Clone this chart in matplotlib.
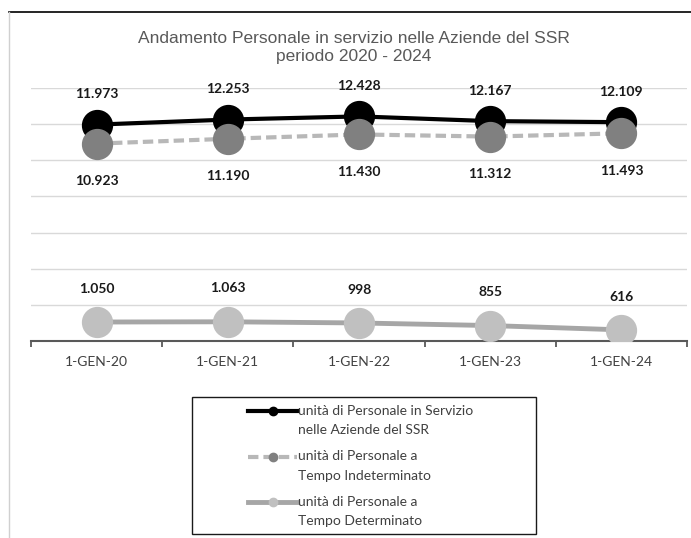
import matplotlib
matplotlib.use("Agg")
import matplotlib.pyplot as plt
from matplotlib.lines import Line2D
from matplotlib.patches import Rectangle

categories = ["1-GEN-20", "1-GEN-21", "1-GEN-22", "1-GEN-23", "1-GEN-24"]
totale = [11973, 12253, 12428, 12167, 12109]
indeterminato = [10923, 11190, 11430, 11312, 11493]
determinato = [1050, 1063, 998, 855, 616]
series_names = ["unità di Personale in Servizio\nnelle Aziende del SSR",
                "unità di Personale a\nTempo Indeterminato",
                "unità di Personale a\nTempo Determinato"]
title = "Andamento Personale in servizio nelle Aziende del SSR\nperiodo 2020 - 2024"

def fmt(v):
    return f"{v:,}".replace(",", ".")

plt.rcParams['font.family'] = ['Lato', 'DejaVu Sans']

W, H = 691, 538
fig = plt.figure(figsize=(W / 100, H / 100), dpi=100)
ax = fig.add_axes([31 / W, 1 - 341 / H, (687 - 31) / W, (341 - 88) / H])

x = list(range(len(categories)))
ms = 21.5
dash = (0, (2.5, 1.2))
styles = [
    dict(color='black', lw=3, mfc='black', mec='black'),
    dict(color='#b8b8b8', lw=3, ls=dash, mfc='#808080', mec='#808080'),
    dict(color='#a6a6a6', lw=3.5, mfc='#c0c0c0', mec='#c0c0c0'),
]
ax.plot(x, totale, marker='o', ms=ms, zorder=3, **styles[0])
ax.plot(x, indeterminato, marker='o', ms=ms, zorder=4, **styles[1])
ax.plot(x, determinato, marker='o', ms=ms, zorder=3, **styles[2])

lab_kw = dict(textcoords='offset points', ha='center', va='center',
              fontsize=10, fontweight='bold', color='#1a1a1a')
for xi, v in zip(x, totale):
    ax.annotate(fmt(v), (xi, v), xytext=(0, 22), **lab_kw)
for xi, v in zip(x, indeterminato):
    ax.annotate(fmt(v), (xi, v), xytext=(0, -27), **lab_kw)
for xi, v in zip(x, determinato):
    ax.annotate(fmt(v), (xi, v), xytext=(0, 24), **lab_kw)

ax.set_xlim(-0.5, len(categories) - 0.5)
ax.set_ylim(0, 14000)
ax.set_yticks(range(0, 14001, 2000))
ax.yaxis.grid(True, color='#d9d9d9', lw=1)
ax.set_axisbelow(True)
ax.tick_params(axis='y', left=False, labelleft=False)
ax.set_xticks(x)
ax.set_xticklabels(categories, fontsize=10, color='#404040')
ax.set_xticks([i - 0.5 for i in range(len(categories) + 1)], minor=True)
ax.tick_params(axis='x', which='major', length=0, pad=11)
ax.tick_params(axis='x', which='minor', length=4, width=1.3, color='#595959', direction='out')
for s in ['top', 'right', 'left']:
    ax.spines[s].set_visible(False)
ax.spines['bottom'].set_color('#595959')
ax.spines['bottom'].set_linewidth(1.5)

fig.text(354 / W, 1 - 47.5 / H, title, ha='center', va='center', fontsize=12.5, color='#595959',
         family=['Liberation Sans', 'DejaVu Sans'], linespacing=1.2)

# outer border
fig.add_artist(Line2D([9 / W, 1], [1 - 12 / H, 1 - 12 / H], color='black', lw=1.2, transform=fig.transFigure))
fig.add_artist(Line2D([9 / W, 9 / W], [0, 1 - 12 / H], color='#d0d0d0', lw=1, transform=fig.transFigure))

# legend (drawn by hand so each handle sits on the first text line)
fig.add_artist(Rectangle((192 / W, 1 - 534 / H), (536 - 192) / W, (534 - 397) / H,
                         transform=fig.transFigure, fill=False, edgecolor='#1a1a1a', lw=1.0))
for i, (name, st) in enumerate(zip(series_names, styles)):
    y0 = 411 + 45.5 * i
    fig.add_artist(Line2D([248 / W, 297 / W], [1 - y0 / H, 1 - y0 / H], transform=fig.transFigure,
                          marker='', **{k: v for k, v in st.items() if k not in ('mfc', 'mec')}))
    fig.add_artist(Line2D([272.5 / W], [1 - y0 / H], transform=fig.transFigure, marker='o', ms=6,
                          ls='none', mfc=st['mfc'], mec=st['mec']))
    for j, line in enumerate(name.split("\n")):
        fig.text(298 / W, 1 - (y0 + 19 * j) / H, line, ha='left', va='center',
                 fontsize=10, color='#404040')

fig.savefig("out.png", dpi=100)
